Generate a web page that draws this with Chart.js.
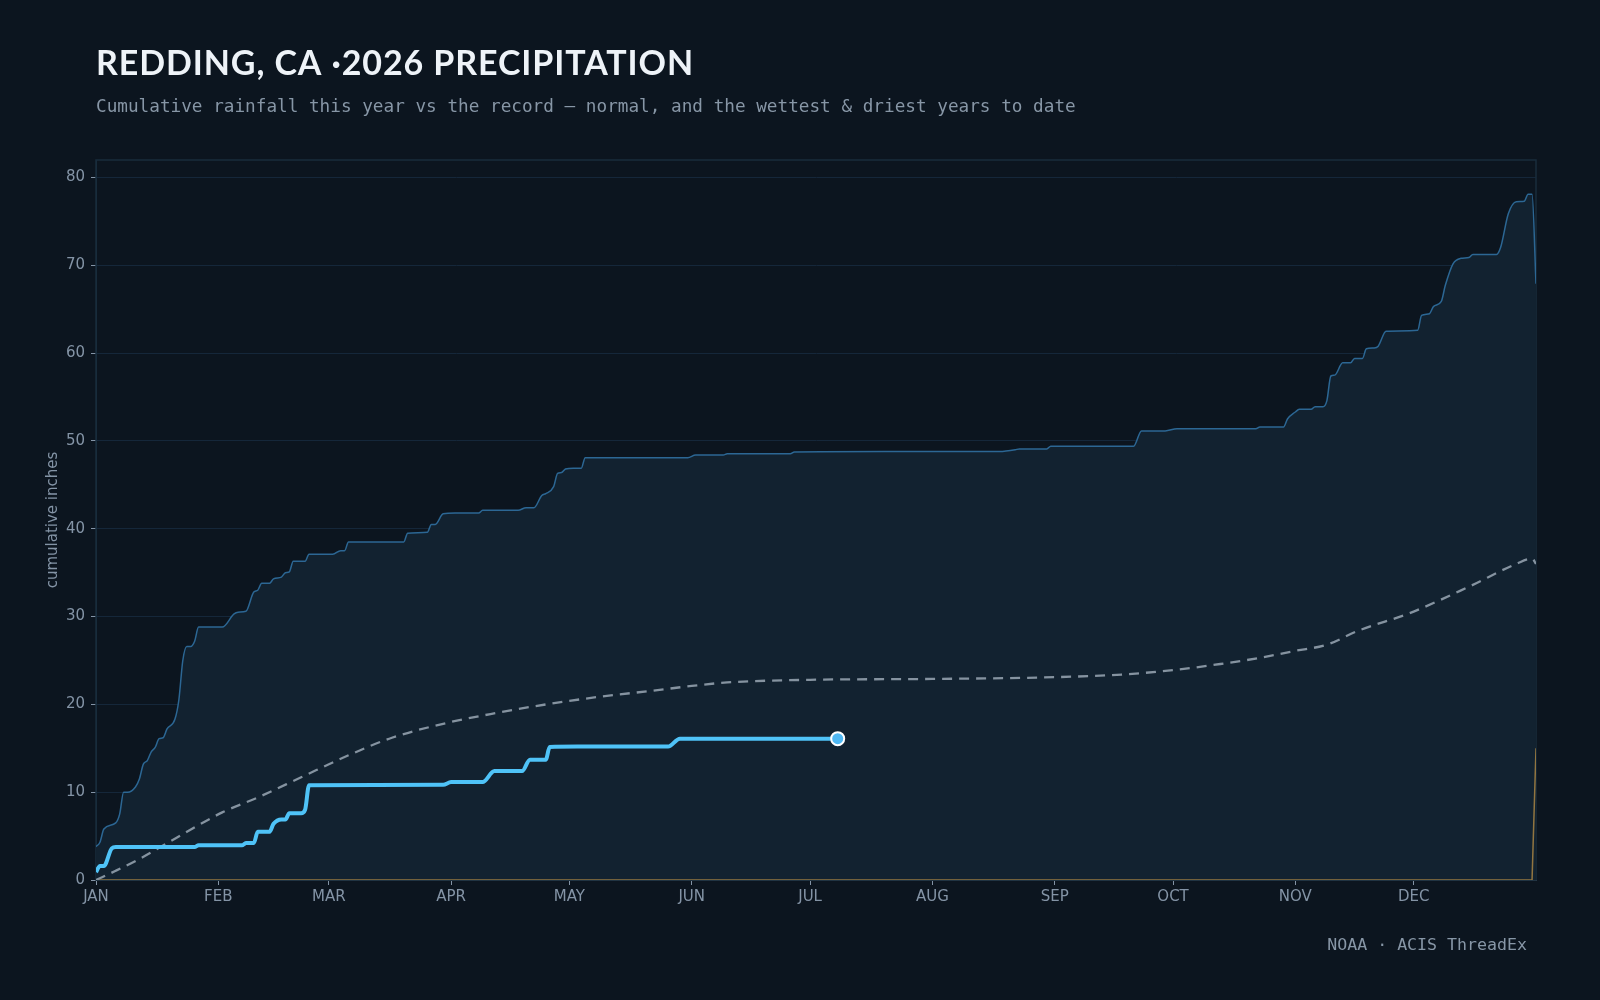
<!DOCTYPE html>
<html>
<head>
<meta charset="utf-8">
<title>Redding precipitation</title>
<script src="https://cdn.jsdelivr.net/npm/chart.js@4.4.1/dist/chart.umd.min.js"></script>
<style>
  html, body { margin: 0; padding: 0; background: #0c151f; }
  #wrap { width: 1600px; height: 1000px; position: relative; }
</style>
</head>
<body>
<div id="wrap"><canvas id="precipChart" width="1600" height="1000"></canvas></div>
<script>
// Eje x: día del año donde empieza cada mes
var monthStarts = [0, 31, 59, 90, 120, 151, 181, 212, 243, 273, 304, 334];
var monthLabels = ['JAN', 'FEB', 'MAR', 'APR', 'MAY', 'JUN', 'JUL', 'AUG', 'SEP', 'OCT', 'NOV', 'DEC'];
var yTicks = [0, 10, 20, 30, 40, 50, 60, 70, 80];

// Año más lluvioso (acumulado, pulgadas)
var wetDays = [0, 1, 2, 5, 6, 7, 8, 10, 11, 12, 13, 14, 15, 16, 17, 18, 20, 21, 22, 23, 24, 25, 26, 32, 35, 36, 38, 40, 41, 42, 44, 45, 47, 48, 49, 50, 53, 54, 60, 62, 63, 64, 78, 79, 84, 85, 86, 88, 91, 97, 98, 107, 109, 111, 113, 114, 116, 117, 118, 119, 121, 123, 124, 150, 152, 159, 160, 176, 177, 200, 229, 233, 234, 241, 242, 263, 265, 271, 274, 294, 295, 301, 302, 304, 305, 308, 309, 311, 312, 313, 314, 316, 318, 319, 321, 322, 324, 325, 327, 335, 336, 338, 339, 341, 342, 344, 346, 348, 349, 355, 356, 358, 360, 362, 363, 364, 365];
var wetVals = [3.8, 4.3, 5.8, 6.5, 7.5, 10.0, 10.0, 10.6, 11.5, 13.2, 13.6, 14.6, 15.1, 16.1, 16.2, 17.2, 18.3, 20.5, 25.0, 26.6, 26.6, 27.2, 28.8, 28.8, 30.3, 30.5, 30.6, 32.8, 33.0, 33.8, 33.8, 34.3, 34.5, 35.0, 35.1, 36.3, 36.3, 37.1, 37.1, 37.5, 37.5, 38.5, 38.5, 39.5, 39.6, 40.5, 40.5, 41.7, 41.8, 41.8, 42.1, 42.1, 42.4, 42.4, 43.8, 44.0, 44.8, 46.3, 46.4, 46.8, 46.9, 46.9, 48.1, 48.1, 48.4, 48.4, 48.55, 48.55, 48.75, 48.8, 48.8, 49.0, 49.1, 49.1, 49.4, 49.4, 51.15, 51.15, 51.4, 51.4, 51.6, 51.6, 52.5, 53.3, 53.6, 53.6, 53.9, 53.9, 54.6, 57.4, 57.5, 58.9, 58.9, 59.4, 59.4, 60.5, 60.6, 60.8, 62.5, 62.6, 64.3, 64.5, 65.3, 65.9, 67.7, 70.2, 70.8, 70.9, 71.25, 71.25, 72.0, 75.9, 77.25, 77.3, 78.1, 78.1, 67.9];

// Normal climatológica
var normalDays = [0, 5, 11, 20, 32, 41, 52, 64, 75, 90, 100, 110, 120, 130, 140, 151, 160, 181, 212, 243, 260, 273, 285, 295, 304, 312, 320, 333, 348, 360, 364, 365];
var normalVals = [0, 1.05, 2.4, 4.7, 7.7, 9.4, 11.7, 14.2, 16.2, 18.0, 18.9, 19.7, 20.4, 21.0, 21.5, 22.1, 22.5, 22.8, 22.9, 23.1, 23.4, 23.9, 24.6, 25.3, 26.1, 26.8, 28.4, 30.4, 33.4, 36.0, 36.6, 36.0];

// Año más seco
var dryDays = [0, 364, 365];
var dryVals = [0, 0, 15.0];

// 2026 hasta la fecha
var curDays = [0, 1, 2, 4, 5, 25, 26, 37, 38, 40, 41, 44, 45, 47, 48, 49, 52, 53, 54, 88, 90, 98, 101, 108, 110, 114, 115, 122, 145, 148, 188];
var curVals = [0.9, 1.6, 1.6, 3.6, 3.75, 3.75, 3.95, 3.95, 4.2, 4.2, 5.5, 5.5, 6.4, 6.9, 6.9, 7.6, 7.6, 8.0, 10.8, 10.85, 11.15, 11.15, 12.4, 12.4, 13.7, 13.7, 15.15, 15.2, 15.2, 16.1, 16.1];

function toPoints(days, vals) {
    return days.map(function (d, i) { return { x: d, y: vals[i] }; });
}

var tickGray = '#8494a6';

// Fondo, marco del área y textos
var framePlugin = {
    id: 'frame',
    beforeDraw: function (chart) {
        var c = chart.ctx;
        c.save();
        c.fillStyle = '#0c151f';
        c.fillRect(0, 0, chart.width, chart.height);
        c.restore();
    },
    beforeDatasetsDraw: function (chart) {
        var a = chart.chartArea, c = chart.ctx;
        c.save();
        c.strokeStyle = '#182c3d';
        c.lineWidth = 1.5;
        c.strokeRect(a.left, a.top, a.right - a.left, a.bottom - a.top);
        c.restore();
    },
    afterDraw: function (chart) {
        var c = chart.ctx;
        c.save();
        c.textBaseline = 'alphabetic';
        c.fillStyle = '#eef3f8';
        c.font = 'bold 34px Lato';
        c.letterSpacing = '0.9px';
        c.fillText('REDDING, CA \u00b72026 PRECIPITATION', 96, 75);
        c.letterSpacing = '0px';
        c.fillStyle = '#8796a6';
        c.font = '17.7px "DejaVu Sans Mono"';
        c.fillText('Cumulative rainfall this year vs the record \u2014 normal, and the wettest & driest years to date', 96, 112);
        c.font = '16.6px "DejaVu Sans Mono"';
        c.textAlign = 'right';
        c.fillText('NOAA \u00b7 ACIS ThreadEx', 1527, 950);
        c.restore();
    }
};

var ctx = document.getElementById('precipChart').getContext('2d');
Chart.defaults.font.family = '"DejaVu Sans"';

var lastCur = curDays.length - 1;

var precipChart = new Chart(ctx, {
    type: 'line',
    data: {
        datasets: [{
            label: '2026',
            data: toPoints(curDays, curVals),
            borderColor: '#4fc3f7',
            borderWidth: 4,
            cubicInterpolationMode: 'monotone',
            pointRadius: function (c) { return c.dataIndex === lastCur ? 6.5 : 0; },
            pointBackgroundColor: '#4fb8f3',
            pointBorderColor: '#ffffff',
            pointBorderWidth: 2,
            fill: false
        },
        {
            label: 'Normal',
            data: toPoints(normalDays, normalVals),
            borderColor: '#8593a0',
            borderWidth: 2.3,
            borderDash: [10, 7],
            cubicInterpolationMode: 'monotone',
            pointRadius: 0,
            fill: false
        },
        {
            label: 'Driest',
            data: toPoints(dryDays, dryVals),
            borderColor: 'rgba(190, 145, 70, 0.75)',
            borderWidth: 1.5,
            pointRadius: 0,
            fill: false
        },
        {
            label: 'Wettest',
            data: toPoints(wetDays, wetVals),
            borderColor: '#2c6794',
            backgroundColor: '#122230',
            borderWidth: 1.5,
            cubicInterpolationMode: 'monotone',
            pointRadius: 0,
            fill: 'origin'
        }]
    },
    options: {
        responsive: false,
        animation: false,
        layout: {
            padding: { left: 40, top: 160, right: 64, bottom: 0 }
        },
        scales: {
            x: {
                type: 'linear',
                min: 0,
                max: 365,
                afterBuildTicks: function (scale) {
                    scale.ticks = monthStarts.map(function (d) { return { value: d }; });
                },
                afterFit: function (scale) { scale.height = 120; },
                ticks: {
                    autoSkip: false,
                    maxRotation: 0,
                    color: tickGray,
                    font: { size: 15 },
                    padding: 3,
                    callback: function (value) {
                        var i = monthStarts.indexOf(value);
                        return i >= 0 ? monthLabels[i] : '';
                    }
                },
                grid: {
                    drawOnChartArea: false,
                    tickLength: 5,
                    tickColor: tickGray
                },
                border: { color: '#3b4856' }
            },
            y: {
                min: 0,
                max: 82,
                afterBuildTicks: function (scale) {
                    scale.ticks = yTicks.map(function (v) { return { value: v }; });
                },
                afterFit: function (scale) { scale.width = 56; },
                ticks: {
                    color: tickGray,
                    font: { size: 15 },
                    padding: 6
                },
                grid: {
                    color: '#15273a',
                    tickLength: 5,
                    tickColor: tickGray
                },
                border: { color: '#182c3d' },
                title: {
                    display: true,
                    text: 'cumulative inches',
                    color: tickGray,
                    font: { size: 15 }
                }
            }
        },
        plugins: {
            legend: { display: false },
            tooltip: { enabled: false }
        }
    },
    plugins: [framePlugin]
});
</script>
</body>
</html>
